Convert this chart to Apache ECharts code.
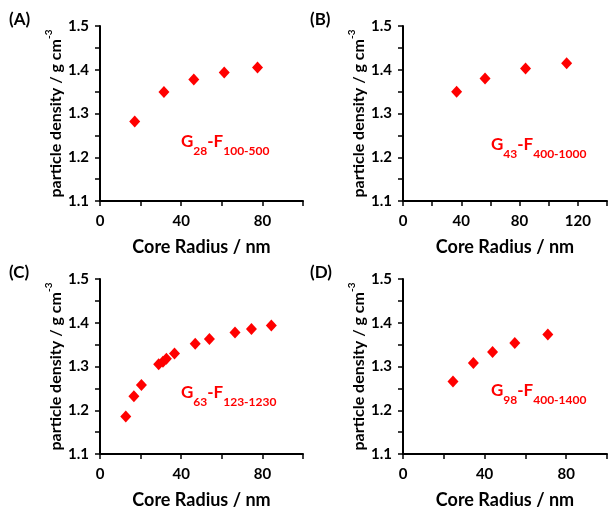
<!DOCTYPE html>
<html>
<head>
<meta charset="utf-8">
<script src="https://cdn.jsdelivr.net/npm/echarts@6/dist/echarts.min.js"></script>
<style>
html,body{margin:0;padding:0;background:#fff;}
#main{width:610px;height:510px;}
</style>
</head>
<body>
<div id="main"></div>
<script>
// ---- data ----
const xA = [17.1, 31.5, 46.2, 61.2, 77.6];
const yA = [1.282, 1.349, 1.378, 1.394, 1.405];
const xB = [36.8, 56.3, 84.1, 112.3];
const yB = [1.350, 1.380, 1.403, 1.415];
const xC = [12.7, 16.7, 20.4, 28.9, 31.0, 32.7, 36.7, 46.9, 53.9, 66.5, 74.6, 84.4];
const yC = [1.186, 1.232, 1.258, 1.305, 1.311, 1.318, 1.330, 1.352, 1.363, 1.378, 1.386, 1.394];
const xD = [24.5, 34.5, 43.9, 54.8, 71.0];
const yD = [1.266, 1.308, 1.333, 1.354, 1.373];

const panelLabels = ['(A)', '(B)', '(C)', '(D)'];
const gNums = ['28', '43', '63', '98'];
const fRanges = ['100-500', '400-1000', '123-1230', '400-1400'];
const xMaxes = [100, 140, 100, 100];
const yTickLabels = ['1.1', '1.2', '1.3', '1.4', '1.5'];
const xLabelStep = 40;
const xAxisTitle = 'Core Radius / nm';

const FONT = 'Lato';
const panels = [[xA, yA], [xB, yB], [xC, yC], [xD, yD]];

const grids = [
  {left: 100, top: 26, width: 203, height: 175},
  {left: 403, top: 26, width: 206, height: 175},
  {left: 100, top: 279, width: 203, height: 176},
  {left: 403, top: 279, width: 206, height: 176}
];
const labelPos = [[181, 133], [491, 136], [181, 384], [491, 382]];
const panelPos = [[9, 11], [310, 11], [9, 264], [310, 264]];

const axisLineStyle = {color: '#000', width: 2};

const xAxes = [], yAxes = [], series = [], graphics = [];
panels.forEach((p, i) => {
  xAxes.push({
    type: 'value', gridIndex: i, min: 0, max: xMaxes[i], interval: 20,
    splitLine: {show: false},
    axisLine: {show: true, lineStyle: axisLineStyle},
    axisTick: {show: true, length: 5, lineStyle: {color: '#000', width: 1.5}},
    axisLabel: {
      margin: 13, color: '#000', fontFamily: FONT, fontWeight: 'bold', fontSize: 15,
      formatter: v => (Math.round(v) % xLabelStep === 0 ? String(Math.round(v)) : ''),
      showMaxLabel: true
    },
    name: xAxisTitle, nameLocation: 'middle', nameGap: 37,
    nameTextStyle: {color: '#000', fontFamily: FONT, fontWeight: 'bold', fontSize: 18}
  });
  yAxes.push({
    type: 'value', gridIndex: i, min: 1.1, max: 1.5, interval: 0.05,
    splitLine: {show: false},
    axisLine: {show: true, lineStyle: axisLineStyle},
    axisTick: {show: true, length: 5, lineStyle: {color: '#000', width: 1.5}},
    axisLabel: {
      margin: 11, color: '#000', fontFamily: FONT, fontWeight: 'bold', fontSize: 15,
      formatter: v => {
        const t = (Math.round(v * 10) / 10).toFixed(1);
        return (Math.abs(v * 10 - Math.round(v * 10)) < 1e-6 && yTickLabels.indexOf(t) >= 0) ? t : '';
      }
    },
    name: '{m|particle density / g cm}{s|-3}', nameLocation: 'middle', nameGap: 36, nameRotate: 90,
    nameTextStyle: {
      rich: {
        m: {color: '#000', fontFamily: FONT, fontWeight: 'bold', fontSize: 16, lineHeight: 20, verticalAlign: 'bottom'},
        s: {color: '#000', fontFamily: FONT, fontWeight: 'bold', fontSize: 10, lineHeight: 20, verticalAlign: 'top', padding: [0, 0, 6, 0]}
      }
    }
  });
  series.push({
    type: 'scatter', xAxisIndex: i, yAxisIndex: i,
    data: p[0].map((x, k) => [x, p[1][k]]),
    symbol: 'diamond', symbolSize: [11, 12],
    itemStyle: {color: '#ff0000', opacity: 1}
  });
  graphics.push({
    type: 'text', left: panelPos[i][0], top: panelPos[i][1],
    style: {text: panelLabels[i], fill: '#000', font: 'bold 17px ' + FONT}
  });
  graphics.push({
    type: 'text', left: labelPos[i][0], top: labelPos[i][1],
    style: {
      text: '{m|G}{s|' + gNums[i] + '}{m|-F}{s|' + fRanges[i] + '}',
      rich: {
        m: {fill: '#ff0000', fontFamily: FONT, fontWeight: 'bold', fontSize: 17, lineHeight: 20, verticalAlign: 'top'},
        s: {fill: '#ff0000', fontFamily: FONT, fontWeight: 'bold', fontSize: 12, lineHeight: 12, verticalAlign: 'top', padding: [12, 0, 0, 0]}
      }
    }
  });
});

const chart = echarts.init(document.getElementById('main'), null, {renderer: 'canvas'});
chart.setOption({
  backgroundColor: '#fff',
  animation: false,
  grid: grids,
  xAxis: xAxes,
  yAxis: yAxes,
  series: series,
  graphic: graphics
});
</script>
</body>
</html>
